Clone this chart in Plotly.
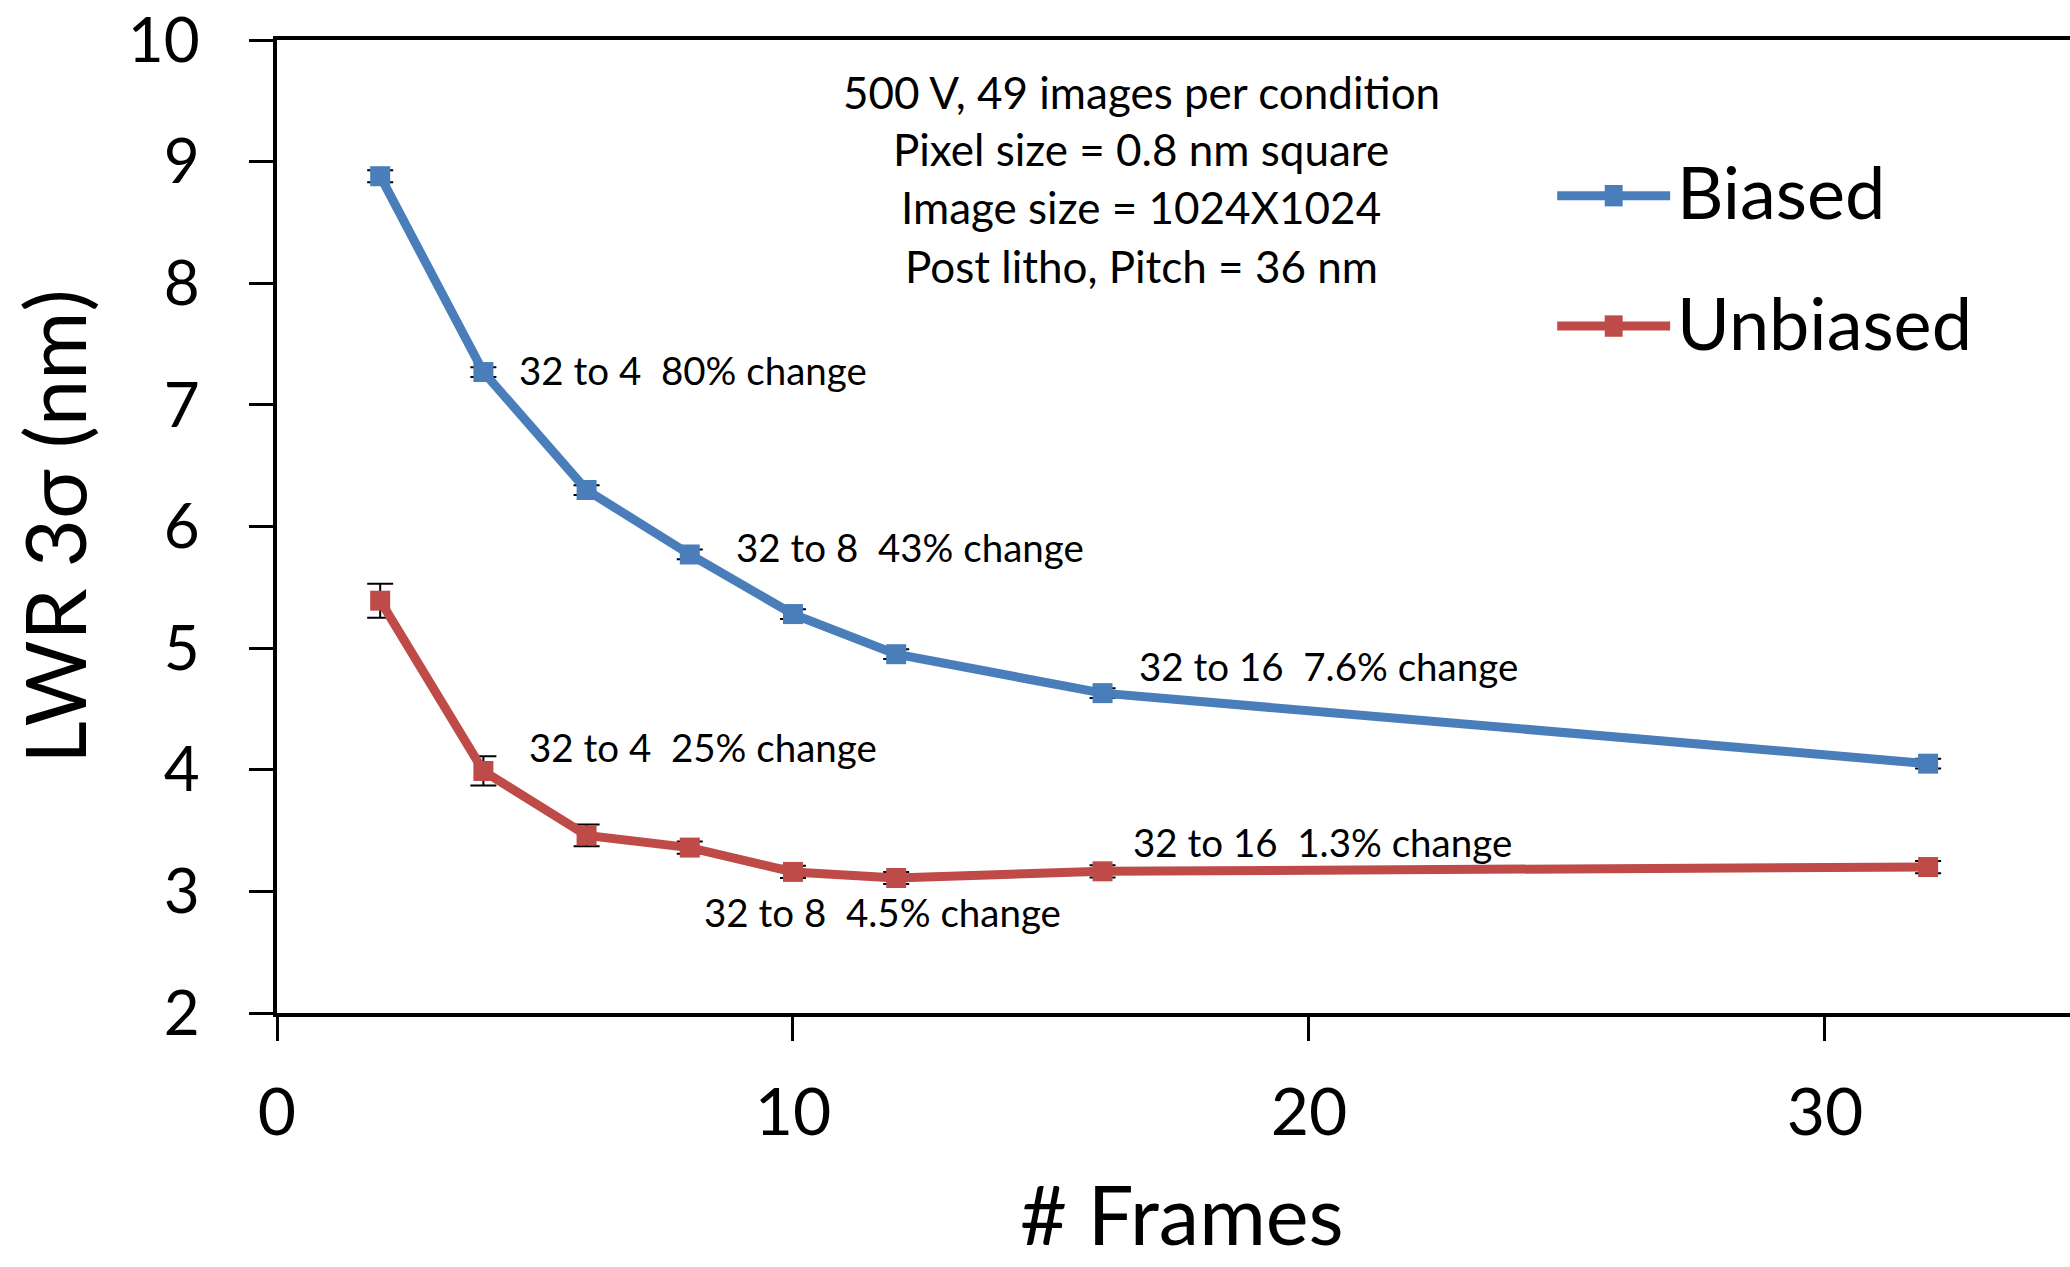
import plotly.graph_objects as go

# Frame counts and line-width roughness (3 sigma, nm) for each condition
frames = [2, 4, 6, 8, 10, 12, 16, 32]
biased = [8.88, 7.27, 6.30, 5.77, 5.28, 4.95, 4.63, 4.05]
biased_err = [0.05, 0.04, 0.04, 0.04, 0.04, 0.04, 0.04, 0.04]
unbiased = [5.39, 3.99, 3.46, 3.36, 3.16, 3.11, 3.165, 3.20]
unbiased_err = [0.14, 0.12, 0.09, 0.05, 0.05, 0.05, 0.05, 0.05]

series_names = ["Biased", "Unbiased"]
series_colors = ["#4A7EBB", "#BE4B48"]

# Percent-change notes placed beside the curves: (x, y, text)
notes_x = [4.66, 8.85, 16.66, 4.84, 16.56, 8.24]
notes_y = [7.285, 5.83, 4.855, 4.19, 3.41, 2.83]
notes_text = [
    "32 to 4\u00a0\u00a080% change",
    "32 to 8\u00a0\u00a043% change",
    "32 to 16\u00a0\u00a07.6% change",
    "32 to 4\u00a0\u00a025% change",
    "32 to 16\u00a0\u00a01.3% change",
    "32 to 8\u00a0\u00a04.5% change",
]

info_lines = [
    "500 V, 49 images per condition",
    "Pixel size = 0.8 nm square",
    "Image size = 1024X1024",
    "Post litho, Pitch = 36 nm",
]

x_ticks = [0, 10, 20, 30]
y_ticks = [2, 3, 4, 5, 6, 7, 8, 9, 10]
x_title = "# Frames"
y_title = "LWR 3\u03c3 (nm)"

FONT = "Lato, 'Open Sans', sans-serif"

fig = go.Figure()
for name, vals, errs, col in zip(series_names, [biased, unbiased],
                                 [biased_err, unbiased_err], series_colors):
    fig.add_trace(go.Scatter(
        x=frames, y=vals, name=name, mode="lines+markers",
        line=dict(color=col, width=9),
        marker=dict(symbol="square", size=20, color=col),
        error_y=dict(type="data", array=errs, visible=True,
                     color="black", thickness=2, width=13),
        showlegend=False,
    ))

# Annotations for the percent-change notes
for x, y, t in zip(notes_x, notes_y, notes_text):
    fig.add_annotation(x=x, y=y, text=t, showarrow=False,
                       xanchor="left", yanchor="middle",
                       font=dict(family=FONT, size=38.5, color="black"))

# Acquisition conditions block
info_y = [0.947, 0.888, 0.828, 0.768]
for yy, t in zip(info_y, info_lines):
    fig.add_annotation(x=0.482, y=yy, xref="paper", yref="paper", text=t,
                       showarrow=False, xanchor="center", yanchor="middle",
                       font=dict(family=FONT, size=44, color="black"))

# Legend drawn as line samples with square markers and labels
legend_y = [0.840, 0.706]
for name, col, ly in zip(series_names, series_colors, legend_y):
    fig.add_shape(type="line", xref="paper", yref="paper",
                  x0=0.714, x1=0.777, y0=ly, y1=ly,
                  line=dict(color=col, width=9))
    fig.add_shape(type="rect", xref="paper", yref="paper",
                  x0=0.7405, x1=0.7505, y0=ly - 0.011, y1=ly + 0.011,
                  line=dict(width=0), fillcolor=col)
    fig.add_annotation(x=0.7795, y=ly + 0.0045, xref="paper", yref="paper",
                       text=name, showarrow=False,
                       xanchor="left", yanchor="middle",
                       font=dict(family=FONT, size=72, color="black"))

# X-axis title placed low in the bottom margin
fig.add_annotation(x=0.505, y=-0.206, xref="paper", yref="paper", text=x_title,
                   showarrow=False, xanchor="center", yanchor="middle",
                   font=dict(family=FONT, size=81, color="black"))

fig.update_layout(
    width=2070, height=1267,
    margin=dict(l=277, r=0, t=40, b=254),
    paper_bgcolor="white", plot_bgcolor="white",
    font=dict(family=FONT, color="black"),
    showlegend=False,
)
fig.update_xaxes(
    range=[0, 34.75], tickvals=x_ticks, ticks="outside", ticklen=24,
    tickwidth=2.5, tickcolor="black", showline=True, linecolor="black",
    linewidth=4, mirror=True, showgrid=False, zeroline=False,
    automargin=False,
    tickfont=dict(family=FONT, size=66), ticklabelstandoff=15,
)
fig.update_yaxes(
    range=[2, 10], tickvals=y_ticks, ticks="outside", ticklen=24,
    tickwidth=2.5, tickcolor="black", showline=True, linecolor="black",
    linewidth=4, showgrid=False, zeroline=False,
    automargin=False,
    tickfont=dict(family=FONT, size=62), ticklabelstandoff=37,
    title=dict(text=y_title, font=dict(family=FONT, size=83), standoff=15),
)

fig.write_html("out.html")
